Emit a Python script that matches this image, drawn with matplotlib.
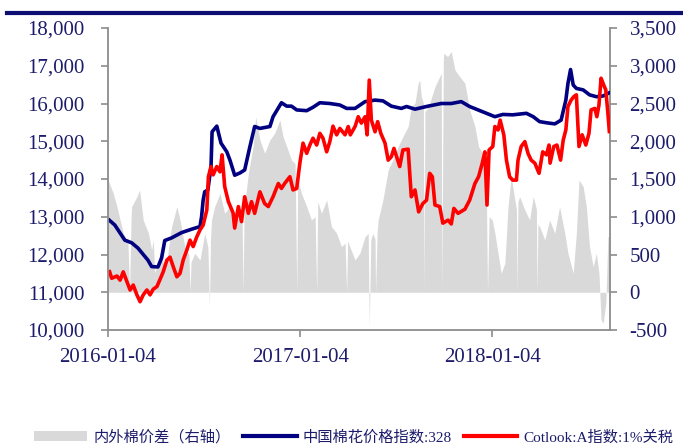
import numpy as np
import matplotlib
matplotlib.use('Agg')
import matplotlib.pyplot as plt
from matplotlib.ticker import FuncFormatter, MultipleLocator
from matplotlib.lines import Line2D
from matplotlib.patches import Patch
import matplotlib.dates as mdates

plt.rcParams['font.family'] = ['Liberation Serif', 'Noto Sans CJK SC']

# ---------------- data ----------------
start_date = np.datetime64('2016-01-04')
end_date = np.datetime64('2018-08-16')
tick_dates = ['2016-01-04', '2017-01-04', '2018-01-04']

# China Cotton Index 328 (yuan/ton), days since 2016-01-04
cc_days = [0, 13, 32, 45, 57, 76, 83, 95, 102, 108, 121, 140, 159, 175, 178, 181, 184, 190,
           196, 198, 207, 215, 226, 232, 241, 251, 260, 270, 279, 289, 308, 314, 330, 340,
           349, 359, 378, 390, 403, 422, 441, 454, 470, 489, 508, 523, 539, 558, 568, 584,
           609, 634, 653, 672, 688, 704, 720, 736, 751, 770, 796, 809, 821, 834, 850, 862,
           871, 875, 880, 885, 891, 904, 916, 929, 942, 956]
cc_vals = [12940, 12780, 12380, 12310, 12170, 11850, 11680, 11670, 11910, 12370, 12440, 12580,
           12670, 12740, 13000, 13440, 13660, 13710, 14330, 15250, 15400, 14950, 14720, 14500,
           14100, 14160, 14240, 14860, 15390, 15340, 15390, 15650, 16020, 15930, 15930, 15830,
           15810, 15900, 16020, 16000, 15960, 15870, 15870, 16050, 16090, 16070, 15930, 15870,
           15920, 15850, 15930, 16000, 16000, 16050, 15920, 15830, 15740, 15650, 15710, 15700,
           15740, 15650, 15520, 15490, 15460, 15560, 16090, 16530, 16900, 16490, 16400, 16360,
           16230, 16180, 16200, 16300]

# Cotlook A index, 1% tariff (yuan/ton)
a_days = [2, 7, 17, 23, 29, 36, 42, 48, 55, 61, 67, 74, 80, 86, 93, 99, 105, 112, 118, 124,
          131, 137, 143, 150, 156, 162, 169, 175, 181, 188, 191, 196, 200, 207, 213, 217, 222,
          229, 238, 241, 248, 254, 260, 267, 273, 279, 289, 298, 305, 314, 324, 330, 336, 346,
          352, 359, 365, 371, 378, 384, 390, 397, 403, 409, 416, 422, 428, 435, 441, 451, 457,
          461, 470, 476, 482, 489, 493, 497, 501, 508, 513, 519, 527, 533, 539, 544, 549, 555,
          561, 571, 577, 584, 591, 599, 606, 612, 617, 622, 631, 637, 647, 653, 658, 666, 679,
          688, 698, 705, 712, 717, 721, 725, 732, 736, 742, 746, 753, 758, 764, 770, 777, 780,
          786, 793, 799, 805, 812, 820, 827, 834, 839, 841, 848, 854, 861, 866, 871, 875, 881,
          886, 891, 896, 902, 909, 915, 919, 926, 930, 934, 938, 943, 947, 951, 954]
a_vals = [11590, 11370, 11430, 11320, 11540, 11280, 11060, 11190, 10930, 10750, 10930, 11060,
          10930, 11080, 11150, 11340, 11540, 11850, 11930, 11680, 11410, 11500, 11850, 12120,
          12380, 12210, 12470, 12650, 12780, 13180, 14060, 14330, 14110, 14330, 14190, 14640,
          13800, 13400, 13100, 12700, 13270, 12870, 13530, 13090, 13400, 13090, 13660, 13350,
          13270, 13530, 13880, 13750, 13880, 14060, 13710, 13750, 14420, 14950, 14680, 14900,
          15080, 14900, 15210, 15080, 14720, 14990, 15400, 15170, 15340, 15170, 15390, 15170,
          15390, 15650, 15480, 15650, 15170, 16620, 15560, 15250, 15520, 15210, 14950, 14500,
          14590, 14810, 14590, 14330, 14770, 14790, 13530, 13710, 13130, 13350, 13440, 14150,
          14060, 13310, 13270, 12830, 12910, 12810, 13220, 13090, 13200, 13440, 13880, 14060,
          14420, 14720, 13310, 14770, 14860, 15390, 15300, 15560, 15170, 14500, 14060, 13970,
          13970, 14500, 14860, 14990, 14680, 14500, 14420, 14150, 14720, 14640, 14900, 14420,
          14860, 14900, 14500, 15030, 15300, 15920, 16090, 16180, 16230, 14860, 15170, 14900,
          15210, 15830, 15870, 15650, 15960, 16670, 16490, 16360, 15740, 15210]

# Domestic minus international cotton price spread (right axis)
spread_days = [0, 10, 17, 23, 29, 38, 41, 44, 45, 55, 60, 67, 77, 83, 86, 89, 99, 105, 112,
               121, 131, 137, 146, 154, 156, 158, 165, 175, 184, 190, 193, 195, 197, 203, 213,
               222, 232, 245, 255, 257, 259, 267, 276, 281, 289, 298, 308, 317, 327, 333, 340,
               349, 356, 359, 361, 368, 378, 387, 394, 397, 399, 406, 416, 425, 435, 444, 451,
               454, 456, 460, 470, 479, 489, 495, 497, 500, 504, 508, 509, 512, 514, 523, 533,
               542, 552, 561, 571, 577, 584, 590, 593, 596, 600, 601, 603, 606, 612, 622, 628,
               634, 635, 638, 639, 646, 653, 660, 669, 679, 688, 698, 705, 713, 720, 722, 725,
               731, 736, 742, 748, 755, 761, 767, 774, 777, 778, 780, 783, 793, 802, 809, 815,
               816, 818, 821, 831, 840, 850, 859, 869, 875, 885, 891, 896, 904, 910, 916, 923,
               929, 934, 938, 942, 947, 951, 955]
spread_vals = [1488, 1311, 1135, 958, 781, 650, 0, 1000, 1135, 1267, 1355, 958, 781, 561, 693,
               252, 517, 384, 428, 870, 1135, 958, 605, 500, 0, 400, 517, 428, 781, 600, -190,
               700, 958, 1135, 1311, 1046, 1135, 958, 1000, 0, 1100, 1576, 1929, 2327, 2018,
               1841, 2018, 2106, 2283, 2062, 1929, 1753, 1700, 0, 1500, 1311, 1135, 958, 1000,
               0, 1200, 1046, 1223, 870, 781, 605, 650, 0, 680, 605, 428, 517, 737, 780, -455,
               700, 780, 700, 0, 800, 958, 1223, 1620, 1753, 1929, 2062, 2194, 2459, 2503, 2768,
               2812, 2592, 2500, 0, 2400, 2415, 2503, 2724, 2812, 2900, 0, 3100, 3166, 3121,
               3188, 2945, 2857, 2768, 2415, 2194, 1929, 1840, 1180, 0, 1000, 958, 780, 517, 250,
               384, 1135, 1532, 1223, 1100, 0, 1200, 1267, 1090, 958, 1267, 1100, 0, 900, 870,
               693, 958, 781, 1135, 781, 517, 252, 781, 1488, 1400, 1135, 605, 340, 517, 252,
               -366, -410, -145, 737, 737]

labels = ['内外棉价差（右轴）', '中国棉花价格指数:328', 'Cotlook:A指数:1%关税']


def to_dates(days):
    return start_date + np.array(days, dtype='timedelta64[D]')


# ---------------- figure ----------------
W, H = 683, 445
fig = plt.figure(figsize=(W / 100, H / 100), dpi=100)
ax = fig.add_axes([108 / W, 1 - 330 / H, (610 - 108) / W, (330 - 28) / H])
ax2 = ax.twinx()

navy = '#000080'
red = '#ff0000'
grey = '#d9d9d9'
txt = '#1c1c6b'
spine_c = '#8c8c8c'

ax2.fill_between(to_dates(spread_days), 0, spread_vals, color=grey, lw=0)
ax.plot(to_dates(cc_days), cc_vals, color=navy, lw=2.6, solid_capstyle='butt')
ax.plot(to_dates(a_days), a_vals, color=red, lw=2.6, solid_capstyle='butt')

ax.set_zorder(ax2.get_zorder() + 1)
ax.patch.set_visible(False)

ax.set_xlim(start_date, end_date)
ax.set_ylim(10000, 18000)
ax2.set_ylim(-500, 3500)
ax.yaxis.set_major_locator(MultipleLocator(1000))
ax2.yaxis.set_major_locator(MultipleLocator(500))
fmt = FuncFormatter(lambda v, p: f'{int(round(v)):,}')
ax.yaxis.set_major_formatter(fmt)
ax2.yaxis.set_major_formatter(fmt)
ax.set_xticks([np.datetime64(d) for d in tick_dates])
ax.xaxis.set_major_formatter(mdates.DateFormatter('%Y-%m-%d'))

for a in (ax, ax2):
    for s in a.spines.values():
        s.set_color(spine_c)
        s.set_linewidth(1.3)
    a.spines['top'].set_visible(False)
ax.spines['right'].set_visible(False)
ax2.spines['left'].set_visible(False)
ax2.spines['bottom'].set_visible(False)

ax.tick_params(axis='y', direction='out', length=5, width=1.2, color=spine_c,
               labelcolor=txt, labelsize=15, pad=12)
ax.tick_params(axis='x', direction='out', length=5, width=1.2, color=spine_c,
               labelcolor=txt, labelsize=15, pad=8)
ax2.tick_params(axis='y', direction='out', length=5, width=1.2, color=spine_c,
                labelcolor=txt, labelsize=15, pad=9)

# top decorative rule
fig.add_artist(Line2D([7 / W, 1.0], [1 - 13 / H, 1 - 13 / H], transform=fig.transFigure,
                      color='#0d0d73', lw=3))

handles = [Patch(facecolor=grey, edgecolor='none'),
           Line2D([], [], color=navy, lw=3),
           Line2D([], [], color=red, lw=3)]
leg = fig.legend(handles, labels, loc='center left', bbox_to_anchor=(34 / W, 1 - 437 / H),
                 ncol=3, frameon=False, fontsize=11, handlelength=3.5, handleheight=0.6,
                 handletextpad=0.4, columnspacing=0.8, borderpad=0, borderaxespad=0)
for t in leg.get_texts():
    t.set_color(txt)

fig.savefig('out.png', dpi=100)
